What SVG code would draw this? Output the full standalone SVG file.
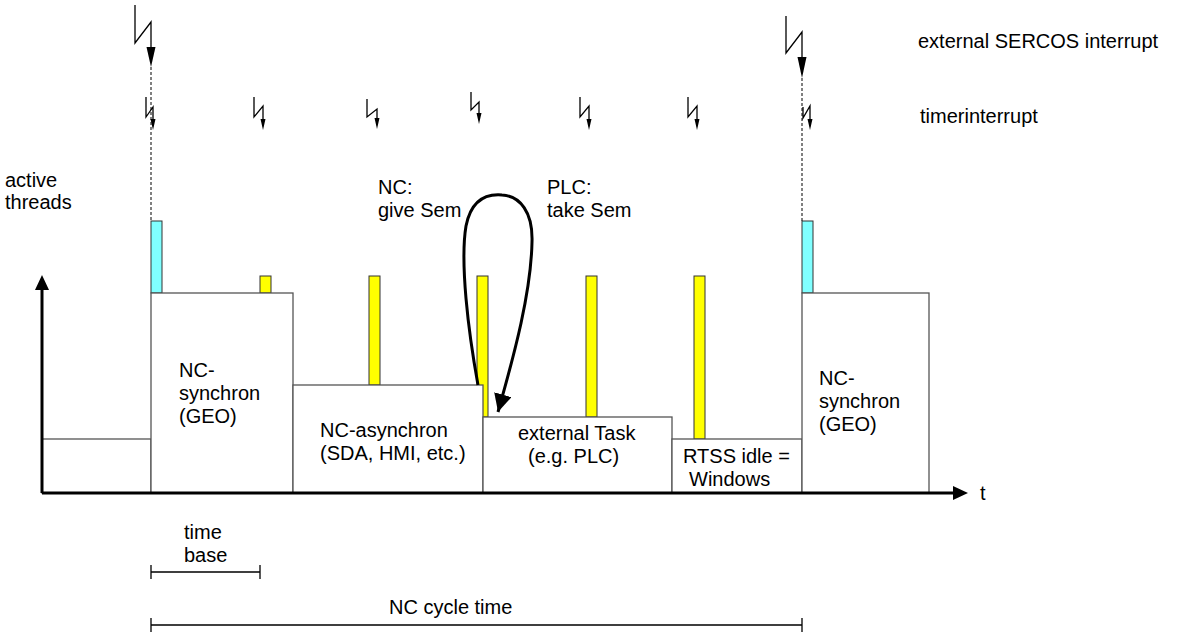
<svg xmlns="http://www.w3.org/2000/svg" width="1186" height="634" viewBox="0 0 1186 634">
<style>
text{font-family:"Liberation Sans",Arial,sans-serif;font-size:20px;fill:#000}
.box{fill:#fff;stroke:#555;stroke-width:1.3}
.cy{fill:#80ffff;stroke:#333;stroke-width:1}
.ye{fill:#ffff00;stroke:#333;stroke-width:1}
.ln{fill:none;stroke:#000;stroke-width:1.3}
.dash{fill:none;stroke:#000;stroke-width:1;stroke-dasharray:3,2}
.axis{fill:none;stroke:#000;stroke-width:3}
</style>
<defs>
<marker id="ah" markerUnits="userSpaceOnUse" markerWidth="20" markerHeight="20" refX="18" refY="9" orient="auto">
<path d="M0,0 L18,9 L0,18 Z" fill="#000"/>
</marker>
</defs>
<rect width="1186" height="634" fill="#fff"/>

<g id="bars">
<rect class="cy" x="151" y="221" width="11" height="72"/>
<rect class="cy" x="802" y="221" width="11" height="72"/>
<rect class="ye" x="260" y="276" width="11" height="17"/>
<rect class="ye" x="369" y="276" width="11" height="109"/>
<rect class="ye" x="477" y="276" width="11" height="141"/>
<rect class="ye" x="586" y="276" width="11" height="141"/>
<rect class="ye" x="694" y="276" width="11" height="163"/>
</g>

<g id="idle-left"><rect class="box" x="42" y="439" width="109" height="54"/></g>
<g id="nc-sync-1"><rect class="box" x="151" y="293" width="142" height="200"/>
<text x="179" y="377">NC-</text><text x="179" y="400">synchron</text><text x="179" y="423">(GEO)</text></g>
<g id="nc-async"><rect class="box" x="293" y="385" width="190" height="108"/>
<text x="320" y="437">NC-asynchron</text><text x="320" y="460">(SDA, HMI, etc.)</text></g>
<g id="ext-task"><rect class="box" x="483" y="417" width="189" height="76"/>
<text x="518" y="440">external Task</text><text x="528" y="463">(e.g. PLC)</text></g>
<g id="rtss"><rect class="box" x="672" y="439" width="130" height="54"/>
<text x="683" y="463">RTSS idle =</text><text x="689" y="486">Windows</text></g>
<g id="nc-sync-2"><rect class="box" x="802" y="293" width="127" height="200"/>
<text x="819" y="385">NC-</text><text x="819" y="408">synchron</text><text x="819" y="431">(GEO)</text></g>

<g id="axes">
<line class="axis" x1="42" y1="493" x2="955" y2="493"/>
<polygon points="953,486 968,493 953,500" fill="#000"/>
<line class="axis" x1="42" y1="493" x2="42" y2="288"/>
<polygon points="35,290 42,275 49,290" fill="#000"/>
<text x="980" y="500">t</text>
<text x="5" y="187">active</text><text x="5" y="209">threads</text>
</g>

<g id="interrupts">
<path class="ln" d="M135,5 L135,43 L151,22 L151,50"/>
<polygon points="146.5,47 155.5,47 151,67" fill="#000"/>
<line class="dash" x1="151" y1="67" x2="151" y2="221"/>
<path class="ln" d="M786,16 L786,53 L802,32 L802,60"/>
<polygon points="797.5,57 806.5,57 802,78" fill="#000"/>
<line class="dash" x1="802" y1="78" x2="802" y2="221"/>
<text x="918" y="48">external SERCOS interrupt</text>
<text x="920" y="123">timerinterrupt</text>

<path class="ln" d="M146,97 L146,117 L153,107 L153,121"/><polygon points="150.5,119 155.5,119 153,130" fill="#000"/>
<path class="ln" d="M254,97 L254,117 L263,106 L263,121"/><polygon points="260.5,119 265.5,119 263,130" fill="#000"/>
<path class="ln" d="M367,99 L367,117 L377,109 L377,120"/><polygon points="374.5,118 379.5,118 377,129" fill="#000"/>
<path class="ln" d="M471,92 L471,110 L479,102 L479,115"/><polygon points="476.5,113 481.5,113 479,124" fill="#000"/>
<path class="ln" d="M580,97 L580,117 L589,106 L589,121"/><polygon points="586.5,119 591.5,119 589,130" fill="#000"/>
<path class="ln" d="M688,97 L688,117 L697,106 L697,121"/><polygon points="694.5,119 699.5,119 697,130" fill="#000"/>
<path class="ln" d="M803,107 L803,118 L810,106 L810,121"/><polygon points="807.5,119 812.5,119 810,130" fill="#000"/>
</g>

<g id="connectors">
<path d="M478,385 C468,330 460,262 466,226 C472,196 490,194 502,195 C520,196 533,212 532,242 C531,292 515,352 498,412" fill="none" stroke="#000" stroke-width="3" marker-end="url(#ah)"/>
</g>
<g id="sem-labels">
<text x="378" y="194">NC:</text><text x="378" y="217">give Sem</text>
<text x="547" y="194">PLC:</text><text x="547" y="217">take Sem</text>
</g>

<g id="brackets">
<text x="184" y="539">time</text><text x="184" y="562">base</text>
<path class="ln" d="M151,572 L260,572 M151,565 L151,579 M260,565 L260,579"/>
<text x="389" y="614">NC cycle time</text>
<path class="ln" d="M151,625 L802,625 M151,618 L151,632 M802,618 L802,632"/>
</g>
</svg>
